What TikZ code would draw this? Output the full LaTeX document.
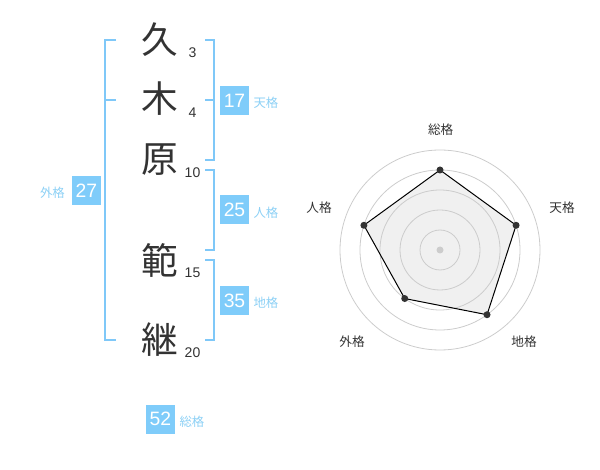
\documentclass[tikz,border=0pt]{standalone}
\usepackage{fontspec}
\setmainfont{Liberation Sans}
\newfontfamily\jpfont{Noto Sans CJK JP}
\usetikzlibrary{positioning}
\definecolor{lineblue}{HTML}{7FC8F8}
\definecolor{boxblue}{HTML}{7FCCFA}
\definecolor{labelblue}{HTML}{8CD0F5}
\definecolor{inkgray}{HTML}{333333}
\definecolor{ringgray}{HTML}{CCCCCC}
\definecolor{areagray}{HTML}{F0F0F0}

\begin{document}
\begin{tikzpicture}[x=0.75pt, y=-0.75pt,
    kanji/.style={font=\jpfont\fontsize{27.5}{27.5}\selectfont, text=inkgray, inner sep=0pt},
    strokes/.style={font=\fontsize{10.5}{11}\selectfont, text=inkgray, inner sep=0pt},
    scorebox/.style={fill=boxblue, text=white, font=\fontsize{14.5}{15}\selectfont, minimum size=21.75pt, inner sep=0pt},
    scorelabel/.style={font=\jpfont\fontsize{9.3}{9.3}\selectfont, text=labelblue, inner sep=0pt},
    bracket/.style={lineblue, line width=1.5pt},
    axislabel/.style={font=\jpfont\fontsize{9.5}{9.5}\selectfont, text=inkgray, inner sep=0pt}]

    \useasboundingbox (0,0) rectangle (600,470);

    % the name, one character per row, with its stroke count:

    \node[kanji] (ku)   at (160,40)  {久};
    \node[kanji] (ki)   at (160,99)  {木};
    \node[kanji] (hara) at (160,160) {原};
    \node[kanji] (han)  at (160,260) {範};
    \node[kanji] (tsugu) at (160,340) {継};

    \node[strokes] (kuN)   at (192.5,53)  {3};
    \node[strokes] (kiN)   at (192.5,113) {4};
    \node[strokes] (haraN) at (192.5,173) {10};
    \node[strokes] (hanN)  at (192.5,273) {15};
    \node[strokes] (tsuguN) at (192.5,353) {20};

    % brackets on the left and right:

    \draw[bracket] (116,40) -- (105,40) -- (105,340) -- (116,340);
    \draw[bracket] (105,100) -- (116,100);

    \draw[bracket] (205,40) -- (214,40) -- (214,160) -- (205,160);
    \draw[bracket] (205,100) -- (214,100);
    \draw[bracket] (205,170) -- (214,170) -- (214,250) -- (205,250);
    \draw[bracket] (205,260) -- (214,260) -- (214,340) -- (205,340);

    % the scores:

    \node[scorebox] (ten) at (234.5,100.5) {17};
    \node[scorelabel, right=3pt of ten, yshift=-2pt] (tenL) {天格};

    \node[scorebox] (jin) at (234.5,210) {25};
    \node[scorelabel, right=3pt of jin, yshift=-2pt] (jinL) {人格};

    \node[scorebox] (chi) at (234.5,300.5) {35};
    \node[scorelabel, right=3pt of chi, yshift=-2pt] (chiL) {地格};

    \node[scorebox] (gai) at (86.5,190.5) {27};
    \node[scorelabel, left=5pt of gai, yshift=-2pt] (gaiL) {外格};

    \node[scorebox] (sou) at (160.5,419) {52};
    \node[scorelabel, right=3pt of sou, yshift=-2pt] (souL) {総格};

    % radar chart, centre at (440,250):

    \begin{scope}[shift={(440,250)}]
        \coordinate (pSou) at (-90:80);
        \coordinate (pTen) at (-18:80);
        \coordinate (pChi) at (54:80);
        \coordinate (pGai) at (126:60);
        \coordinate (pJin) at (198:80);

        \fill[areagray] (pSou) -- (pTen) -- (pChi) -- (pGai) -- (pJin) -- cycle;
        \foreach \r in {20,40,...,100}
            \draw[ringgray, line width=0.6pt] (0,0) circle[radius=\r];
        \fill[ringgray] (0,0) circle[radius=3.5];

        \draw[black, line width=0.75pt] (pSou) -- (pTen) -- (pChi) -- (pGai) -- (pJin) -- cycle;
        \foreach \p in {pSou,pTen,pChi,pGai,pJin}
            \fill[inkgray] (\p) circle[radius=3.5];

        \node[axislabel] (aSou) at (0.7,-120)  {総格};
        \node[axislabel] (aTen) at (122,-42)   {天格};
        \node[axislabel] (aChi) at (84,92)     {地格};
        \node[axislabel] (aGai) at (-88,92)    {外格};
        \node[axislabel] (aJin) at (-121,-42)  {人格};
    \end{scope}
%
\end{tikzpicture}
\end{document}
